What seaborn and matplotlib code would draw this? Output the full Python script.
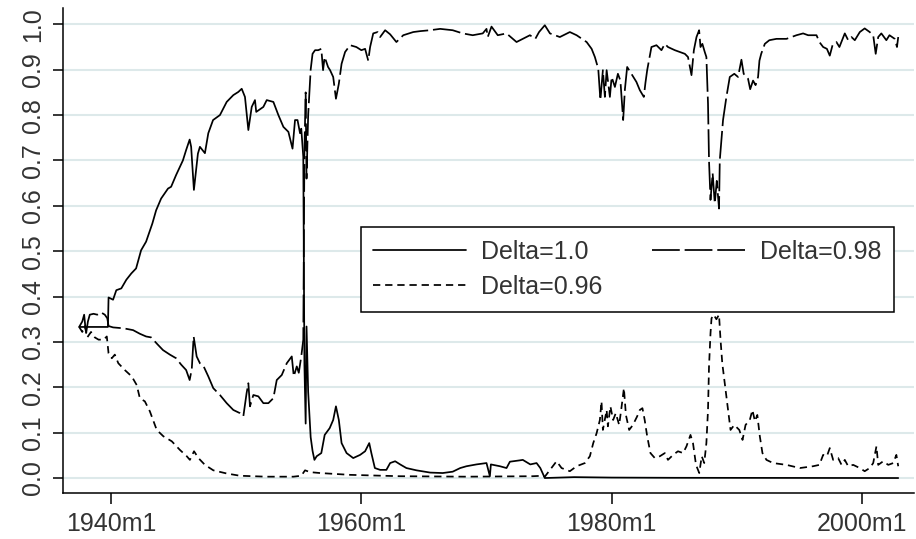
import matplotlib

matplotlib.use("Agg")
import matplotlib.pyplot as plt
import pandas as pd
import seaborn as sns

# (year, posterior probability), one list per model
delta_100 = [
    (1937.45, 0.333), (1939.75, 0.333), (1939.8, 0.398), (1940.16, 0.393), (1940.42, 0.414),
    (1940.82, 0.418), (1941.22, 0.437), (1941.62, 0.451), (1942.0, 0.462), (1942.4, 0.502),
    (1942.8, 0.521), (1943.3, 0.561), (1943.6, 0.590), (1944.0, 0.616), (1944.55, 0.638),
    (1944.8, 0.642), (1945.2, 0.668), (1945.74, 0.700), (1946.0, 0.723), (1946.28, 0.746),
    (1946.4, 0.730), (1946.62, 0.635), (1946.94, 0.715), (1947.1, 0.730), (1947.5, 0.716),
    (1947.77, 0.760), (1948.15, 0.789), (1948.7, 0.800), (1949.24, 0.829), (1949.77, 0.844),
    (1950.17, 0.851), (1950.44, 0.858), (1950.7, 0.840), (1950.97, 0.767), (1951.24, 0.818),
    (1951.5, 0.833), (1951.6, 0.807), (1952.17, 0.818), (1952.44, 0.833), (1952.97, 0.829),
    (1953.37, 0.800), (1953.77, 0.774), (1954.17, 0.763), (1954.5, 0.726), (1954.7, 0.789),
    (1954.9, 0.789), (1955.1, 0.760), (1955.2, 0.770), (1955.36, 0.708), (1955.45, 0.250),
    (1955.55, 0.120), (1955.62, 0.334), (1955.75, 0.190), (1955.95, 0.090), (1956.1, 0.060),
    (1956.25, 0.040), (1956.43, 0.048), (1956.8, 0.055), (1957.07, 0.095), (1957.47, 0.110),
    (1957.75, 0.128), (1957.97, 0.158), (1958.2, 0.128), (1958.42, 0.077), (1958.82, 0.055),
    (1959.35, 0.044), (1959.9, 0.051), (1960.3, 0.059), (1960.63, 0.077), (1960.8, 0.055),
    (1961.08, 0.022), (1961.5, 0.018), (1962.0, 0.018), (1962.3, 0.033), (1962.7, 0.037),
    (1963.1, 0.030), (1963.6, 0.022), (1964.4, 0.017), (1965.5, 0.012), (1966.5, 0.011),
    (1967.3, 0.014), (1967.9, 0.022), (1968.4, 0.026), (1969.2, 0.030), (1970.0, 0.033),
    (1970.27, 0.004), (1970.35, 0.030), (1971.07, 0.026), (1971.6, 0.022), (1971.87, 0.036),
    (1972.67, 0.039), (1972.9, 0.040), (1973.5, 0.030), (1974.0, 0.033), (1974.3, 0.022),
    (1974.66, 0.000), (1977.0, 0.002), (1980.0, 0.001), (1985.0, 0.0005), (2002.9, 0.000),
]

delta_098 = [
    (1937.45, 0.333), (1937.7, 0.345), (1937.85, 0.360), (1938.0, 0.318), (1938.15, 0.345),
    (1938.3, 0.360), (1938.6, 0.362), (1938.9, 0.360), (1939.2, 0.365), (1939.5, 0.360),
    (1939.7, 0.352), (1939.8, 0.335), (1940.16, 0.332), (1941.0, 0.330), (1941.76, 0.326),
    (1942.3, 0.318), (1942.8, 0.312), (1943.2, 0.310), (1943.7, 0.295), (1944.15, 0.282),
    (1944.7, 0.272), (1945.2, 0.264), (1945.6, 0.250), (1946.0, 0.238), (1946.28, 0.216),
    (1946.45, 0.240), (1946.6, 0.312), (1946.84, 0.268), (1947.1, 0.253), (1947.4, 0.246),
    (1947.77, 0.224), (1948.17, 0.198), (1948.7, 0.183), (1949.24, 0.165), (1949.77, 0.150),
    (1950.3, 0.143), (1950.57, 0.136), (1950.83, 0.187), (1950.97, 0.209), (1951.1, 0.158),
    (1951.37, 0.183), (1951.77, 0.180), (1952.17, 0.165), (1952.57, 0.165), (1952.97, 0.176),
    (1953.24, 0.216), (1953.64, 0.227), (1954.04, 0.253), (1954.44, 0.268), (1954.6, 0.224),
    (1954.84, 0.246), (1955.0, 0.232), (1955.2, 0.268), (1955.36, 0.305), (1955.45, 0.720),
    (1955.55, 0.850), (1955.62, 0.660), (1955.75, 0.800), (1955.95, 0.900), (1956.1, 0.935),
    (1956.3, 0.943), (1956.55, 0.943), (1956.8, 0.946), (1956.94, 0.899), (1957.07, 0.928),
    (1957.34, 0.906), (1957.5, 0.899), (1957.75, 0.884), (1957.97, 0.836), (1958.2, 0.869),
    (1958.42, 0.913), (1958.7, 0.939), (1959.1, 0.954), (1959.6, 0.950), (1960.0, 0.943),
    (1960.3, 0.946), (1960.55, 0.920), (1960.7, 0.950), (1960.95, 0.980), (1961.3, 0.983),
    (1961.5, 0.972), (1961.9, 0.987), (1962.3, 0.978), (1962.8, 0.961), (1963.35, 0.976),
    (1964.15, 0.983), (1964.7, 0.985), (1965.48, 0.987), (1966.3, 0.990), (1967.3, 0.987),
    (1968.1, 0.980), (1968.9, 0.976), (1969.7, 0.980), (1970.0, 0.990), (1970.1, 0.972),
    (1970.4, 0.995), (1970.9, 0.976), (1971.6, 0.980), (1972.4, 0.961), (1972.9, 0.968),
    (1973.47, 0.976), (1973.9, 0.968), (1974.2, 0.983), (1974.66, 0.998), (1975.07, 0.980),
    (1975.86, 0.972), (1976.66, 0.983), (1977.2, 0.976), (1978.0, 0.961), (1978.4, 0.946),
    (1978.66, 0.928), (1978.93, 0.902), (1979.1, 0.833), (1979.3, 0.899), (1979.46, 0.840),
    (1979.6, 0.899), (1979.86, 0.840), (1980.0, 0.884), (1980.26, 0.862), (1980.5, 0.891),
    (1980.7, 0.876), (1980.92, 0.789), (1981.06, 0.857), (1981.24, 0.906), (1981.58, 0.891),
    (1981.98, 0.873), (1982.25, 0.855), (1982.57, 0.840), (1982.7, 0.871), (1982.84, 0.899),
    (1983.18, 0.950), (1983.58, 0.954), (1983.98, 0.943), (1984.25, 0.957), (1984.5, 0.950),
    (1985.05, 0.943), (1985.45, 0.939), (1985.85, 0.935), (1986.1, 0.928), (1986.38, 0.888),
    (1986.57, 0.943), (1986.78, 0.972), (1986.99, 0.987), (1987.1, 0.950), (1987.25, 0.957),
    (1987.44, 0.939), (1987.57, 0.928), (1987.7, 0.825), (1987.78, 0.700), (1987.9, 0.613),
    (1988.07, 0.672), (1988.24, 0.605), (1988.4, 0.655), (1988.58, 0.594), (1988.64, 0.700),
    (1988.9, 0.789), (1989.17, 0.840), (1989.44, 0.884), (1989.8, 0.891), (1990.1, 0.884),
    (1990.37, 0.922), (1990.55, 0.891), (1990.9, 0.880), (1991.07, 0.857), (1991.3, 0.876),
    (1991.5, 0.866), (1991.7, 0.884), (1991.81, 0.920), (1991.95, 0.935), (1992.24, 0.957),
    (1992.6, 0.965), (1993.17, 0.968), (1993.97, 0.968), (1994.77, 0.976), (1995.3, 0.980),
    (1995.7, 0.976), (1996.37, 0.976), (1996.6, 0.961), (1996.9, 0.950), (1997.2, 0.946),
    (1997.43, 0.931), (1997.65, 0.954), (1997.96, 0.961), (1998.2, 0.950), (1998.63, 0.980),
    (1998.9, 0.965), (1999.16, 0.972), (1999.43, 0.965), (1999.83, 0.983), (2000.22, 0.991),
    (2000.62, 0.983), (2000.9, 0.976), (2001.1, 0.935), (2001.3, 0.972), (2001.55, 0.980),
    (2001.95, 0.965), (2002.2, 0.976), (2002.62, 0.968), (2002.8, 0.950), (2002.9, 0.972),
]

delta_096 = [
    (1937.45, 0.333), (1937.7, 0.322), (1937.9, 0.335), (1938.1, 0.310), (1938.4, 0.322),
    (1938.7, 0.310), (1939.0, 0.305), (1939.4, 0.305), (1939.66, 0.312), (1939.8, 0.275),
    (1940.06, 0.264), (1940.3, 0.272), (1940.58, 0.253), (1941.1, 0.238), (1941.65, 0.224),
    (1942.05, 0.205), (1942.3, 0.176), (1942.7, 0.169), (1943.1, 0.147), (1943.65, 0.106),
    (1944.18, 0.092), (1944.85, 0.081), (1945.5, 0.062), (1946.05, 0.048), (1946.3, 0.040),
    (1946.63, 0.059), (1946.98, 0.044), (1947.5, 0.029), (1948.17, 0.017), (1949.24, 0.010),
    (1950.3, 0.005), (1952.4, 0.003), (1954.57, 0.003), (1955.2, 0.005), (1955.5, 0.017),
    (1955.9, 0.013), (1956.7, 0.011), (1959.1, 0.007), (1963.1, 0.004), (1968.4, 0.003),
    (1973.7, 0.004), (1974.5, 0.005), (1974.66, 0.003), (1975.07, 0.018), (1975.6, 0.037),
    (1976.0, 0.022), (1976.66, 0.015), (1977.2, 0.026), (1977.86, 0.033), (1978.26, 0.048),
    (1978.53, 0.077), (1978.8, 0.099), (1979.06, 0.128), (1979.19, 0.169), (1979.3, 0.106),
    (1979.6, 0.150), (1979.7, 0.114), (1979.9, 0.158), (1980.12, 0.128), (1980.33, 0.143),
    (1980.6, 0.117), (1980.78, 0.154), (1980.98, 0.198), (1981.14, 0.139), (1981.4, 0.106),
    (1981.7, 0.117), (1982.04, 0.136), (1982.25, 0.150), (1982.46, 0.154), (1982.64, 0.128),
    (1982.84, 0.092), (1983.1, 0.055), (1983.45, 0.044), (1983.85, 0.048), (1984.25, 0.055),
    (1984.5, 0.040), (1984.91, 0.051), (1985.3, 0.059), (1985.71, 0.055), (1985.98, 0.070),
    (1986.3, 0.095), (1986.5, 0.077), (1986.74, 0.029), (1987.0, 0.011), (1987.2, 0.048),
    (1987.4, 0.033), (1987.57, 0.077), (1987.7, 0.150), (1987.78, 0.246), (1987.9, 0.319),
    (1987.98, 0.352), (1988.15, 0.360), (1988.37, 0.350), (1988.58, 0.360), (1988.7, 0.305),
    (1988.84, 0.253), (1989.04, 0.209), (1989.3, 0.150), (1989.5, 0.106), (1989.8, 0.117),
    (1990.2, 0.106), (1990.46, 0.084), (1990.7, 0.117), (1991.04, 0.128), (1991.25, 0.150),
    (1991.45, 0.125), (1991.64, 0.139), (1991.84, 0.092), (1992.05, 0.055), (1992.37, 0.040),
    (1992.9, 0.033), (1993.97, 0.029), (1995.04, 0.022), (1996.1, 0.026), (1996.6, 0.029),
    (1996.9, 0.051), (1997.2, 0.048), (1997.43, 0.066), (1997.7, 0.040), (1998.1, 0.044),
    (1998.37, 0.029), (1998.63, 0.040), (1998.9, 0.026), (1999.3, 0.029), (1999.83, 0.022),
    (2000.22, 0.015), (2000.62, 0.022), (2000.9, 0.033), (2001.16, 0.070), (2001.3, 0.029),
    (2001.7, 0.037), (2002.1, 0.029), (2002.5, 0.033), (2002.75, 0.051), (2002.9, 0.026),
]

series_names = ["Delta=1.0", "Delta=0.98", "Delta=0.96"]
x_ticks = [1940, 1960, 1980, 2000]
x_tick_labels = ["1940m1", "1960m1", "1980m1", "2000m1"]
y_ticks = [0.0, 0.1, 0.2, 0.3, 0.4, 0.5, 0.6, 0.7, 0.8, 0.9, 1.0]

frames = []
for name, pairs in zip(series_names, [delta_100, delta_098, delta_096]):
    frames.append(pd.DataFrame(pairs, columns=["year", "prob"]).assign(series=name))
df = pd.concat(frames, ignore_index=True)

sns.set_theme(style="white")
plt.rcParams["font.family"] = ["Liberation Sans", "DejaVu Sans"]
text_color = "#333333"

fig = plt.figure(figsize=(9.16, 5.39), dpi=100)
ax = fig.add_axes([63 / 916, 46 / 539, 851 / 916, 485 / 539])

# grid first so the lines sit on top
for y in y_ticks:
    ax.axhline(y, color="#dde9ea", linewidth=1.5, zorder=0)

sns.lineplot(
    data=df,
    x="year",
    y="prob",
    style="series",
    style_order=series_names,
    dashes={"Delta=1.0": "", "Delta=0.98": (16, 2.8), "Delta=0.96": (4.2, 2.8)},
    color="black",
    linewidth=1.25,
    estimator=None,
    legend=False,
    ax=ax,
)

ax.set_xlim(1936.16, 2004.16)
ax.set_ylim(-0.033, 1.036)
ax.set_xticks(x_ticks)
ax.set_xticklabels(x_tick_labels)
ax.set_yticks(y_ticks)
ax.set_yticklabels([f"{v:.1f}" for v in y_ticks], rotation=90, va="center")
ax.set_xlabel("")
ax.set_ylabel("")

for side in ["top", "right"]:
    ax.spines[side].set_visible(False)
for side in ["left", "bottom"]:
    ax.spines[side].set_color("black")
    ax.spines[side].set_linewidth(1.1)

ax.tick_params(axis="both", direction="out", color="black", width=1.1,
               bottom=True, left=True, labelsize=18, labelcolor=text_color)
ax.tick_params(axis="y", length=7.2, pad=5.5)
ax.tick_params(axis="x", length=8, pad=5.5)

lines = ax.get_lines()[len(y_ticks):]
leg = ax.legend(
    handles=[lines[0], lines[2], lines[1]],
    labels=[series_names[0], series_names[2], series_names[1]],
    ncol=2,
    loc="upper left",
    bbox_to_anchor=(0.350, 0.0, 0.626, 0.5475),
    mode="expand",
    fontsize=18,
    frameon=True,
    fancybox=False,
    framealpha=1,
    edgecolor="black",
    handlelength=3.7,
    handletextpad=0.6,
    labelspacing=0.45,
    borderpad=0.5,
    borderaxespad=0,
)
leg.get_frame().set_linewidth(1.1)
for t in leg.get_texts():
    t.set_color(text_color)

fig.savefig("out.png", dpi=100)
